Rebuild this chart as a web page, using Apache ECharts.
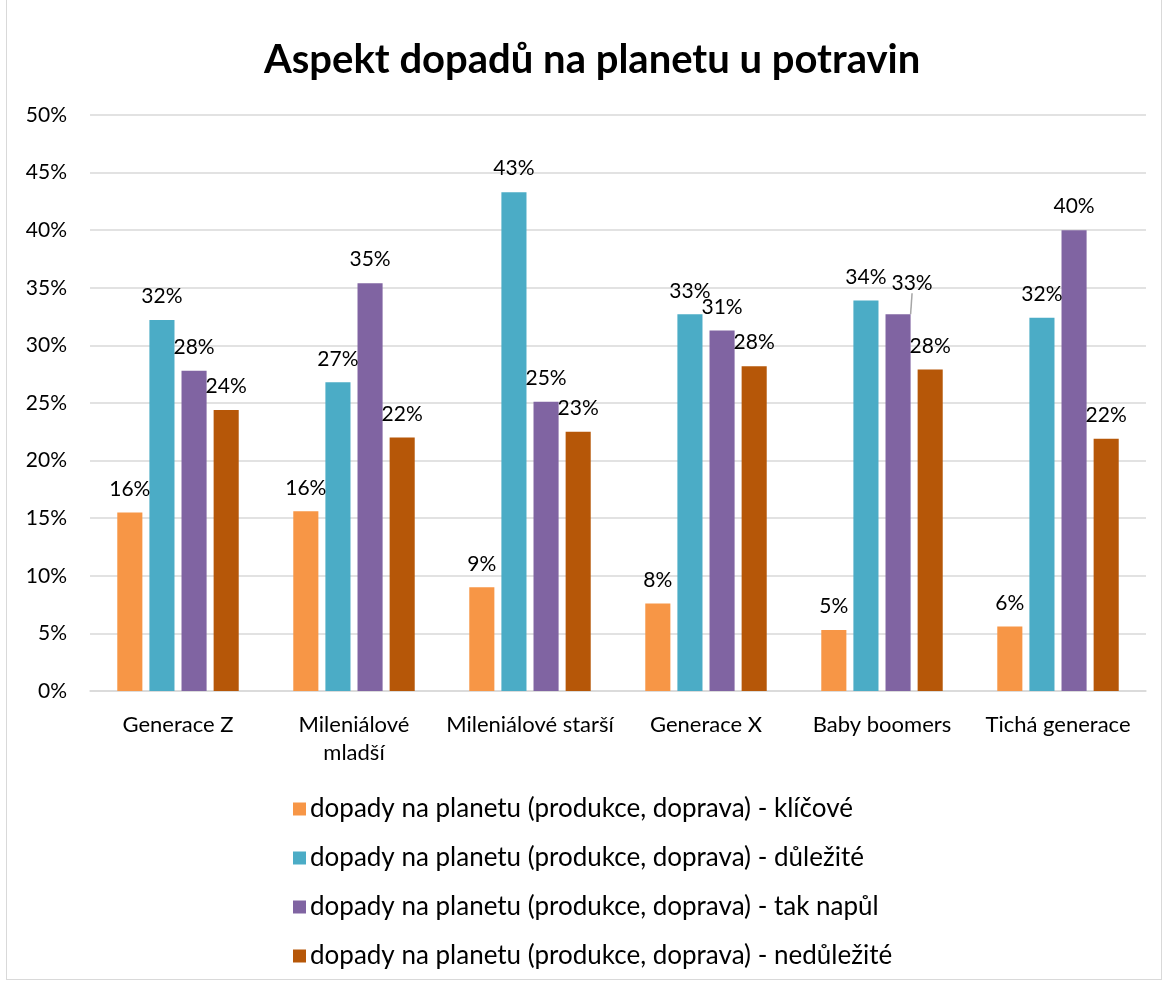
<!DOCTYPE html>
<html>
<head>
<meta charset="utf-8">
<script src="https://cdn.jsdelivr.net/npm/echarts@6/dist/echarts.min.js"></script>
<style>
  html, body { margin: 0; padding: 0; background: #fff; }
  #chart { position: absolute; left: 6px; top: 0; width: 1156px; height: 980px; border: 1px solid #d9d9d9; border-top: none; box-sizing: border-box; }
</style>
</head>
<body>
<div id="chart"></div>
<script>
var categories = ["Generace Z", "Mileniálové\nmladší", "Mileniálové starší", "Generace X", "Baby boomers", "Tichá generace"];
var seriesNames = [
  "dopady na planetu (produkce, doprava) - klíčové",
  "dopady na planetu (produkce, doprava) - důležité",
  "dopady na planetu (produkce, doprava) - tak napůl",
  "dopady na planetu (produkce, doprava) - nedůležité"
];
var klicove = [15.5, 15.6, 9.0, 7.6, 5.3, 5.6];
var dulezite = [32.2, 26.8, 43.3, 32.7, 33.9, 32.4];
var takNapul = [27.8, 35.4, 25.1, 31.3, 32.7, 40.0];
var nedulezite = [24.4, 22.0, 22.5, 28.2, 27.9, 21.9];
var colors = ["#f79646", "#4bacc6", "#8064a2", "#b65708"];

var font = "Lato, 'Open Sans', sans-serif";
var chart = echarts.init(document.getElementById("chart"));

function makeSeries(name, data, color, idx) {
  var s = {
    name: name,
    type: "bar",
    data: data,
    barGap: "28%",
    barCategoryGap: "31%",
    itemStyle: { color: color },
    label: {
      show: true,
      position: "top",
      distance: 13,
      color: "#000",
      fontFamily: font,
      fontSize: 21,
      formatter: function (p) { return Math.round(p.value) + "%"; }
    }
  };
  if (idx === 2) {
    // posunutý popisek u Baby boomers s vodicí čárou
    s.data = data.map(function (v, i) {
      if (i === 4) return { value: v, labelLine: { show: true, lineStyle: { color: "#a6a6a6", width: 1.5 } } };
      return v;
    });
    s.labelLayout = function (p) {
      if (p.dataIndex === 4) return { dx: 14, dy: -8 };
      return {};
    };
  }
  return s;
}

var option = {
  animation: false,
  color: colors,
  title: {
    text: "Aspekt dopadů na planetu u potravin",
    left: 252,
    top: 35,
    textStyle: { fontFamily: font, fontSize: 40, fontWeight: "bold", color: "#000" }
  },
  legend: {
    orient: "vertical",
    left: 281,
    top: 791,
    itemGap: 23,
    itemWidth: 13,
    itemHeight: 13,
    icon: "rect",
    textStyle: { fontFamily: font, fontSize: 26, color: "#000", padding: [0, 0, 0, -1] },
    data: seriesNames
  },
  grid: { left: 83, right: 15, top: 115, height: 576, containLabel: false },
  xAxis: {
    type: "category",
    data: categories,
    axisLine: { lineStyle: { color: "#d9d9d9", width: 1.5 } },
    axisTick: { show: false },
    axisLabel: { color: "#000", fontFamily: font, fontSize: 22, margin: 20, lineHeight: 28, interval: 0 }
  },
  yAxis: {
    type: "value",
    min: 0,
    max: 50,
    interval: 5,
    axisLine: { show: false },
    axisTick: { show: false },
    splitLine: { lineStyle: { color: "#d9d9d9", width: 1.5 } },
    axisLabel: { color: "#000", fontFamily: font, fontSize: 21, margin: 23, formatter: "{value}%" }
  },
  series: [
    makeSeries(seriesNames[0], klicove, colors[0], 0),
    makeSeries(seriesNames[1], dulezite, colors[1], 1),
    makeSeries(seriesNames[2], takNapul, colors[2], 2),
    makeSeries(seriesNames[3], nedulezite, colors[3], 3)
  ]
};
chart.setOption(option);
</script>
</body>
</html>
